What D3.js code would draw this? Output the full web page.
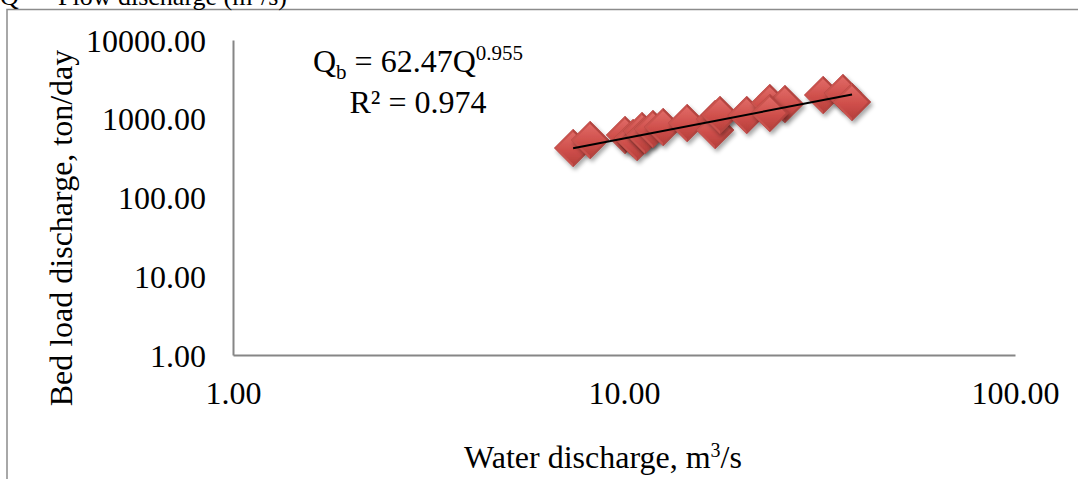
<!DOCTYPE html>
<html>
<head>
<meta charset="utf-8">
<script src="https://cdn.jsdelivr.net/npm/d3@7"></script>
<style>
  body { margin: 0; background: #fff; }
  text { font-family: "Liberation Serif", "Times New Roman", serif; fill: #000; }
</style>
</head>
<body>
<svg id="canvas" width="1078" height="479"></svg>
<script>
// water discharge (m3/s) and bed load discharge (ton/day)
let waterQ = [7.41, 8.19, 10.06, 10.55, 10.8, 11.12, 11.32, 11.86, 12.59, 14.5,
              17.1, 17.1, 17.6, 20.6, 23.6, 25.8, 23.6, 32.3, 36.3, 38.3];
let bedLoad = [425, 537, 622, 570, 507, 699, 622, 741, 786, 883,
               993, 719, 1116, 1116, 1585, 1539, 1183, 2004, 2124, 1632];

// tick values for both log axes
let xTicks = [1, 10, 100];
let yTicks = [1, 10, 100, 1000, 10000];

// power trendline Qb = a * Q^b
let fitA = 62.47;
let fitB = 0.955;

let canvas = d3.select('#canvas');

// plot area
let plotLeft = 233, plotRight = 1015, plotTop = 40, plotBottom = 355;

let x = d3.scaleLog().domain([1, 100]).range([plotLeft, plotRight]);
let y = d3.scaleLog().domain([1, 10000]).range([plotBottom, plotTop]);

// drop shadow and gradients for the bevelled diamond markers
let defs = canvas.append("defs");
let shadow = defs.append("filter").attr("id", "shadow")
    .attr("x", "-50%").attr("y", "-50%").attr("width", "200%").attr("height", "200%");
shadow.append("feDropShadow")
    .attr("dx", 2).attr("dy", 3).attr("stdDeviation", 2)
    .attr("flood-color", "#000").attr("flood-opacity", 0.35);

let face = defs.append("linearGradient").attr("id", "face")
    .attr("x1", 0).attr("y1", 0).attr("x2", 0).attr("y2", 1);
face.append("stop").attr("offset", "0%").attr("stop-color", "#e06a66");
face.append("stop").attr("offset", "55%").attr("stop-color", "#cf4f4b");
face.append("stop").attr("offset", "100%").attr("stop-color", "#b8403c");

// outer frame (only top and left edges are visible)
canvas.append("path")
    .attr("d", "M7,479 V9.5 H1078")
    .attr("fill", "none")
    .attr("stroke", "#8c8c8c")
    .attr("stroke-width", 1.5);

// caption cut off at the top edge, as in the source figure
canvas.append("text")
    .attr("x", 0).attr("y", 5)
    .attr("font-size", 26)
    .text("Q =");
canvas.append("text")
    .attr("x", 58).attr("y", 5)
    .attr("font-size", 26)
    .html("Flow discharge (m<tspan dy='-9' font-size='17'>3</tspan><tspan dy='9'>/s)</tspan>");

// axes
let xAxis = canvas.append("g")
    .attr("transform", `translate(0,${plotBottom})`)
    .call(d3.axisBottom(x).tickValues(xTicks).tickSize(0).tickFormat(d3.format(".2f")));
xAxis.select(".domain").attr("stroke", "#868686").attr("stroke-width", 2);
xAxis.selectAll("text").attr("font-size", 32).attr("dy", 0).attr("y", 49);

let yAxis = canvas.append("g")
    .attr("transform", `translate(${plotLeft},0)`)
    .call(d3.axisLeft(y).tickValues(yTicks).tickSize(0).tickFormat(d3.format(".2f")));
yAxis.select(".domain").attr("stroke", "#868686").attr("stroke-width", 2);
yAxis.selectAll("text").attr("font-size", 32).attr("x", -27).attr("dy", "0.35em");

canvas.selectAll(".tick text").style("font-family", "'Liberation Serif', serif").attr("fill", "#000");

// axis titles
canvas.append("text")
    .attr("transform", "translate(72,228) rotate(-90)")
    .attr("text-anchor", "middle")
    .attr("font-size", 32)
    .text("Bed load discharge, ton/day");

canvas.append("text")
    .attr("x", 603).attr("y", 468)
    .attr("text-anchor", "middle")
    .attr("font-size", 32)
    .html("Water discharge, m<tspan dy='-11' font-size='20'>3</tspan><tspan dy='11'>/s</tspan>");

// diamond markers
let r = 19;
let points = waterQ.map((q, i) => ({ q: q, qb: bedLoad[i] }));

let marks = canvas.selectAll("g.mark")
    .data(points)
    .enter()
    .append("g")
    .attr("class", "mark")
    .attr("transform", d => `translate(${x(d.q)},${y(d.qb)})`)
    .attr("filter", "url(#shadow)");

marks.append("path")
    .attr("d", `M0,${-r} L${r},0 L0,${r} L${-r},0 Z`)
    .attr("fill", "#a73c39");
marks.append("path")
    .attr("d", `M0,${-r} L${r},0 L0,${r} Z`)
    .attr("fill", "#b44440");
marks.append("path")
    .attr("d", `M0,${-r} L${-r},0 L0,${r} Z`)
    .attr("fill", "#c9524e");
let ri = r - 3;
marks.append("path")
    .attr("d", `M0,${-ri} L${ri},0 L0,${ri} L${-ri},0 Z`)
    .attr("fill", "url(#face)");

// trendline over the data range
let qExt = d3.extent(waterQ);
let fitLine = d3.line()
    .x(d => x(d))
    .y(d => y(fitA * Math.pow(d, fitB)));
canvas.append("path")
    .datum(qExt)
    .attr("d", fitLine)
    .attr("fill", "none")
    .attr("stroke", "#000")
    .attr("stroke-width", 2);

// equation label
canvas.append("text")
    .attr("x", 418).attr("y", 72)
    .attr("text-anchor", "middle")
    .attr("font-size", 32)
    .html("Q<tspan dy='7' font-size='21'>b</tspan><tspan dy='-7'> = 62.47Q</tspan><tspan dy='-12' font-size='21'>0.955</tspan>");

canvas.append("text")
    .attr("x", 418).attr("y", 113)
    .attr("text-anchor", "middle")
    .attr("font-size", 32)
    .text("R² = 0.974");
</script>
</body>
</html>
